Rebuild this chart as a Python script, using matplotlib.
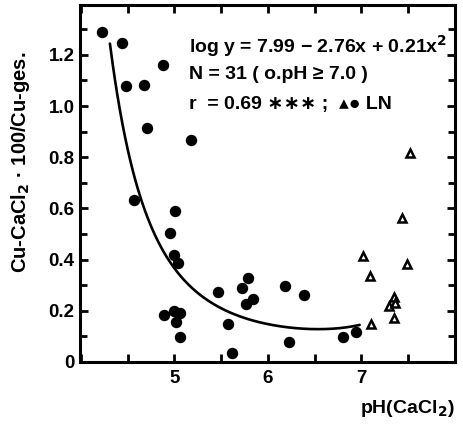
import numpy as np
import matplotlib
matplotlib.use("Agg")
import matplotlib.pyplot as plt
from matplotlib.ticker import MultipleLocator

plt.rcParams['font.family'] = ['Liberation Sans', 'DejaVu Sans']

# Circles (pH < 7)
circ_ph = [4.23, 4.44, 4.48, 4.67, 4.875, 4.71, 5.18, 4.57, 5.01, 4.95, 4.99, 5.04,
           5.47, 5.72, 5.79, 5.77, 5.84, 6.18, 6.38, 4.89, 5.00, 5.06, 5.02, 5.06,
           5.57, 5.62, 6.22, 6.80, 6.94]
circ_y = [1.288, 1.247, 1.078, 1.082, 1.16, 0.913, 0.867, 0.633, 0.591, 0.503, 0.418, 0.385,
          0.275, 0.288, 0.329, 0.227, 0.246, 0.297, 0.262, 0.184, 0.199, 0.193, 0.157, 0.099,
          0.148, 0.034, 0.077, 0.099, 0.118]

# Triangles (pH >= 7)
tri_ph = [7.52, 7.43, 7.02, 7.49, 7.09, 7.35, 7.29, 7.36, 7.35, 7.10]
tri_y = [0.818, 0.561, 0.414, 0.382, 0.336, 0.255, 0.219, 0.232, 0.173, 0.148]

# Regression curve
curve_ph = [4.31, 4.39, 4.50, 4.57, 4.70, 4.84, 5.00, 5.20, 5.45, 5.73, 6.09, 6.55, 6.98]
curve_y = [1.27, 1.02, 0.83, 0.71, 0.58, 0.477, 0.366, 0.281, 0.216, 0.177, 0.142, 0.128, 0.145]

x_ticks = [5, 6, 7]
y_ticks = [0, 0.2, 0.4, 0.6, 0.8, 1.0, 1.2]
y_ticklabels = ['0', '0.2', '0.4', '0.6', '0.8', '1.0', '1.2']

fig = plt.figure(figsize=(4.63, 4.24), dpi=100)
ax = fig.add_axes([80/463, 62/424, 375/463, 357/424])

coef = np.polyfit(curve_ph, np.log10(curve_y), 4)
xs = np.linspace(curve_ph[0], curve_ph[-1], 200)
ax.plot(xs, 10**np.polyval(coef, xs), color='black', lw=1.9, solid_capstyle='round')

ax.plot(circ_ph, circ_y, 'o', color='black', ms=7.2, mec='black')
ax.plot(tri_ph, tri_y, '^', mfc='white', mec='black', ms=6, mew=1.8)

ax.set_xlim(3.99, 8.0)
ax.set_ylim(0, 1.395)
ax.set_xticks(x_ticks)
ax.set_xticklabels([str(t) for t in x_ticks])
ax.xaxis.set_minor_locator(MultipleLocator(0.5))
ax.set_yticks(y_ticks)
ax.set_yticklabels(y_ticklabels)
ax.yaxis.set_minor_locator(MultipleLocator(0.1))

ax.tick_params(which='both', direction='in', top=True, right=True, width=2, labelsize=13.5)
ax.tick_params(which='major', length=6)
ax.tick_params(axis='y', which='minor', length=5)
ax.tick_params(axis='x', which='minor', length=6)
ax.tick_params(axis='y', pad=4)
ax.tick_params(axis='x', pad=6)
for lab in ax.get_xticklabels() + ax.get_yticklabels():
    lab.set_fontweight('bold')
for s in ax.spines.values():
    s.set_linewidth(2.2)

ax.set_ylabel('Cu-CaCl$_\\mathbf{2}$ · 100/Cu-ges.', fontsize=14.5, fontweight='bold')
ax.yaxis.set_label_coords(-0.128, 0.56)
ax.set_xlabel('pH(CaCl$_\\mathbf{2}$)', fontsize=14, fontweight='bold')
ax.xaxis.set_label_coords(1.0, -0.1)
ax.xaxis.label.set_horizontalalignment('right')

tk = dict(transform=ax.transAxes, fontsize=14, fontweight='bold', va='center', ha='left')
ax.text(0.29, 0.885, 'log y = 7.99 − 2.76x + 0.21x$^\\mathbf{2}$', **tk)
ax.text(0.29, 0.805, 'N = 31 ( o.pH ≥ 7.0 )', **tk)
ax.text(0.29, 0.72, 'r  = 0.69 ∗∗∗ ;  ▴● LN', **tk)

fig.savefig('out.png', dpi=100)
